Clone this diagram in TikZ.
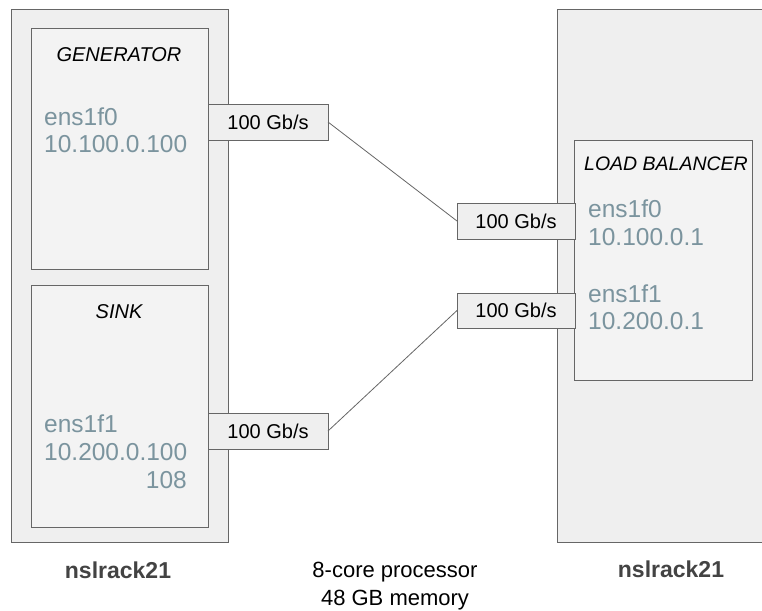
\documentclass[tikz,border=0pt]{standalone}
\usepackage{fontspec}
\setmainfont{Liberation Sans}
\definecolor{rackfill}{HTML}{EFEFEF}
\definecolor{hostfill}{HTML}{F3F3F3}
\definecolor{edge}{HTML}{666666}
\definecolor{iface}{HTML}{7B949E}
\definecolor{rackname}{HTML}{434343}
\begin{document}
\begin{tikzpicture}[x=1pt,y=-1pt,
  box/.style={draw=edge,line width=0.9pt,anchor=north west,inner sep=0pt,outer sep=0pt},
  rack/.style={box,fill=rackfill},
  host/.style={box,fill=hostfill},
  port/.style={box,fill=rackfill,font=\fontsize{20}{22}\selectfont},
  role/.style={anchor=base,font=\fontsize{20}{22}\selectfont\itshape},
  addr/.style={anchor=base west,text=iface,inner sep=0pt,font=\fontsize{24.5}{26}\selectfont},
  caption/.style={anchor=base,text=rackname,font=\fontsize{23}{25}\selectfont\bfseries},
  link/.style={draw=edge,line width=0.8pt}]
\useasboundingbox[fill=white] (0,0) rectangle (762,610);

% left machine
\node[rack,minimum width=217pt,minimum height=533pt] (rackL) at (11,9) {};
\node[host,minimum width=177pt,minimum height=241pt] (gen) at (31,28) {};
\node[host,minimum width=177pt,minimum height=242pt] (sink) at (31,285) {};

% right machine (runs past the page edge)
\fill[rackfill] (557,9) rectangle (762,542);
\draw[edge,line width=0.9pt] (762,9) -- (557,9) -- (557,542) -- (762,542);
\node[host,minimum width=178pt,minimum height=240pt] (lb) at (574,140) {};

% role titles
\node[role] (genT) at (119,61) {GENERATOR};
\node[role] (sinkT) at (119,318) {SINK};
\node[role,anchor=base west,inner sep=0pt,font=\fontsize{19.5}{22}\selectfont\itshape] (lbT) at (584,170) {LOAD BALANCER};

% interface addresses
\node[addr] (g1) at (44,125) {ens1f0};
\node[addr] (g2) at (44,152) {10.100.0.100};
\node[addr] (s1) at (44,432) {ens1f1};
\node[addr] (s2) at (44,460) {10.200.0.100};
\node[addr,anchor=base east] (s3) at (187,488) {108};
\node[addr] (b1) at (588,217) {ens1f0};
\node[addr] (b2) at (588,245) {10.100.0.1};
\node[addr] (b3) at (588,302) {ens1f1};
\node[addr] (b4) at (588,329) {10.200.0.1};

% NIC ports
\node[port,minimum width=120pt,minimum height=36pt] (pG) at (208,104) {100 Gb/s};
\node[port,minimum width=120pt,minimum height=36pt] (pS) at (208,413) {100 Gb/s};
\node[port,minimum width=118pt,minimum height=36pt] (pB0) at (457,203) {100 Gb/s};
\node[port,minimum width=118pt,minimum height=35pt] (pB1) at (457,293) {100 Gb/s};

% cables
\draw[link] (pG.east) -- (pB0.west);
\draw[link] (pS.east) -- (pB1.west);

% captions
\node[caption] (capL) at (118,578) {nslrack21};
\node[caption] (capR) at (671,577) {nslrack21};
\node[anchor=base,font=\fontsize{22}{29}\selectfont,inner sep=0pt] (spec) at (395,577) {8-core processor};
\node[anchor=base,font=\fontsize{22}{29}\selectfont,inner sep=0pt] (mem) at (395,605) {48 GB memory};
\end{tikzpicture}
\end{document}
